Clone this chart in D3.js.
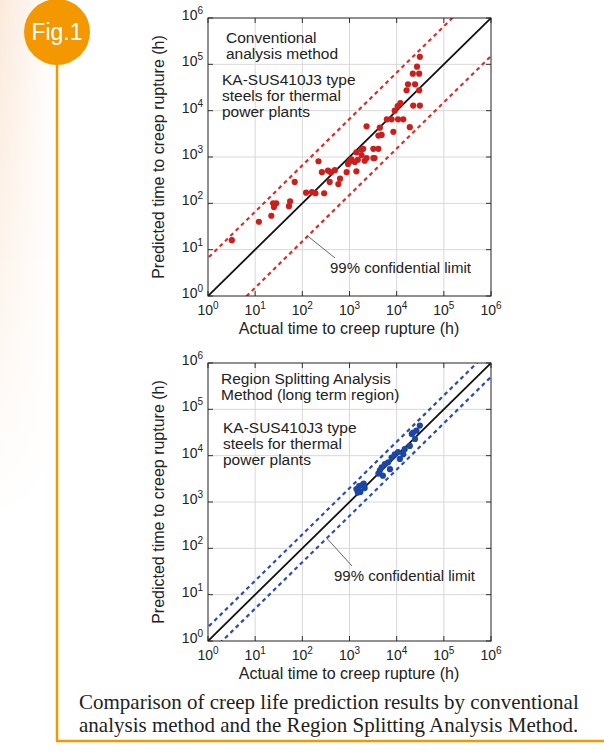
<!DOCTYPE html>
<html>
<head>
<meta charset="utf-8">
<script src="https://cdn.jsdelivr.net/npm/d3@7"></script>
<style>
  body { margin: 0; background: #fff; }
  svg { display: block; }
</style>
</head>
<body>
<div id="fig"></div>
<script>
// values (hours)
const decades = [1, 10, 100, 1e3, 1e4, 1e5, 1e6];
const tickExponents = ["0", "1", "2", "3", "4", "5", "6"];

// conventional method: [actual, predicted]
const conventionalActual = [3.2, 12, 22, 25, 28, 52, 55, 69, 120, 160, 190, 290, 220, 260, 350, 490, 380, 630, 580, 870,
  1400, 930, 1300, 2100, 1100, 1400, 1800, 1950, 2300, 3200, 3400, 3200, 4100, 2300, 4400, 4100, 4800, 8500, 6200, 7800,
  10700, 13800, 9100, 12000, 10500, 19000, 22400, 31000, 16200, 30000, 17400, 24500, 22000, 30000, 27000, 31000, 1800,
  1000, 24, 1500, 400];
const conventionalPredicted = [16, 40, 54, 83, 100, 87, 110, 290, 170, 175, 165, 165, 810, 470, 510, 520, 290, 340, 260, 470,
  490, 710, 780, 830, 890, 1260, 1450, 1500, 950, 950, 950, 1500, 1500, 4600, 4300, 2900, 3000, 3500, 6500, 6500,
  6500, 6500, 10000, 14500, 12600, 4400, 12900, 12900, 27500, 27500, 37000, 37000, 63000, 63000, 89000, 145000, 1100,
  800, 100, 870, 470];

// region splitting method: [actual, predicted]
const splittingActual = [1400, 1600, 1800, 2100, 1700, 1500, 4400, 4800, 5600, 6600, 7800, 9100, 10700, 11700, 7200,
  13800, 14800, 19000, 20900, 22400, 26300, 31000, 24500, 4100, 5100, 2000];
const splittingPredicted = [1900, 2200, 2300, 2000, 1650, 1600, 4800, 5600, 6600, 7200, 9100, 10700, 12000, 8500, 5100,
  10700, 13800, 16200, 29500, 31600, 34700, 44700, 22900, 4100, 3700, 2500];

const confConventional = 0.82;  // decades
const confSplitting = 0.30;

const W = 604, H = 753;
const orange = "#f39800";

const svg = d3.select("#fig").append("svg")
  .attr("width", W).attr("height", H)
  .style("font-family", "'Liberation Sans', Arial, sans-serif");

// faint peach wash on the left edge
const defs = svg.append("defs");
const grad = defs.append("linearGradient").attr("id", "wash").attr("x1", 0).attr("x2", 1);
grad.append("stop").attr("offset", 0).attr("stop-color", "#fbeadb");
grad.append("stop").attr("offset", 1).attr("stop-color", "#ffffff");
const fade = defs.append("linearGradient").attr("id", "fade").attr("x1", 0).attr("x2", 0).attr("y1", 0).attr("y2", 1);
fade.append("stop").attr("offset", 0).attr("stop-color", "#fff").attr("stop-opacity", 1);
fade.append("stop").attr("offset", 1).attr("stop-color", "#fff").attr("stop-opacity", 0);
defs.append("mask").attr("id", "washMask").append("rect")
  .attr("x", 0).attr("y", 0).attr("width", 56).attr("height", 520).attr("fill", "url(#fade)");
svg.append("rect").attr("x", 0).attr("y", 0).attr("width", 56).attr("height", 520)
  .attr("fill", "url(#wash)").attr("mask", "url(#washMask)");

// frame
svg.append("line").attr("x1", 57).attr("x2", 57).attr("y1", 40).attr("y2", 741)
  .attr("stroke", orange).attr("stroke-width", 2.5);
svg.append("line").attr("x1", 56).attr("x2", W).attr("y1", 741).attr("y2", 741)
  .attr("stroke", orange).attr("stroke-width", 2.5);
svg.append("circle").attr("cx", 57).attr("cy", 32).attr("r", 33).attr("fill", orange);
svg.append("text").attr("x", 57).attr("y", 40).attr("text-anchor", "middle")
  .attr("fill", "#fff").style("font-size", "23px").text("Fig.1");

function drawPanel(opt) {
  const x = d3.scaleLog().domain([1, 1e6]).range([208, 491]);
  const y = d3.scaleLog().domain([1, 1e6]).range([opt.top + 278, opt.top]);
  const g = svg.append("g");
  const clipId = "clip" + opt.top;
  defs.append("clipPath").attr("id", clipId).append("rect")
    .attr("x", 208).attr("y", opt.top).attr("width", 283).attr("height", 278);

  // grid
  g.selectAll(".gx").data(decades.slice(1, -1)).enter().append("line")
    .attr("x1", d => x(d)).attr("x2", d => x(d)).attr("y1", opt.top).attr("y2", opt.top + 278)
    .attr("stroke", "#d8d8d8");
  g.selectAll(".gy").data(decades.slice(1, -1)).enter().append("line")
    .attr("y1", d => y(d)).attr("y2", d => y(d)).attr("x1", 208).attr("x2", 491)
    .attr("stroke", "#d8d8d8");

  // inward ticks on all four sides
  const tk = 5;
  decades.forEach(d => {
    g.append("line").attr("x1", x(d)).attr("x2", x(d)).attr("y1", opt.top + 278).attr("y2", opt.top + 278 - tk).attr("stroke", "#333");
    g.append("line").attr("x1", x(d)).attr("x2", x(d)).attr("y1", opt.top).attr("y2", opt.top + tk).attr("stroke", "#333");
    g.append("line").attr("y1", y(d)).attr("y2", y(d)).attr("x1", 208).attr("x2", 208 + tk).attr("stroke", "#333");
    g.append("line").attr("y1", y(d)).attr("y2", y(d)).attr("x1", 491).attr("x2", 491 - tk).attr("stroke", "#333");
  });

  // tick labels 10^n
  const xl = g.selectAll(".xl").data(decades).enter().append("text")
    .attr("x", d => x(d)).attr("y", opt.top + 297).attr("text-anchor", "middle")
    .style("font-size", "14px").attr("fill", "#222");
  xl.append("tspan").text("10");
  xl.append("tspan").attr("dy", -6).style("font-size", "10px").text((d, i) => tickExponents[i]);

  const yl = g.selectAll(".yl").data(decades).enter().append("text")
    .attr("x", 203).attr("y", d => y(d) + 2).attr("text-anchor", "end")
    .style("font-size", "14px").attr("fill", "#222");
  yl.append("tspan").text("10");
  yl.append("tspan").attr("dy", -6).style("font-size", "10px").text((d, i) => tickExponents[i]);

  // axis titles
  svg.append("text").attr("x", 349).attr("y", opt.top + 316).attr("text-anchor", "middle")
    .style("font-size", "16px").attr("fill", "#222").text("Actual time to creep rupture (h)");
  svg.append("text").attr("transform", `translate(164,${opt.top + 139}) rotate(-90)`)
    .attr("text-anchor", "middle").style("font-size", "16px").attr("fill", "#222")
    .text("Predicted time to creep rupture (h)");

  // lines
  const lines = g.append("g").attr("clip-path", `url(#${clipId})`);
  const span = [0.1, 1e7];
  const band = k => d3.line().x(d => x(d)).y(d => y(d * Math.pow(10, k)));
  lines.append("path").datum(span).attr("d", band(0)).attr("stroke", "#111").attr("stroke-width", 1.8).attr("fill", "none");
  [opt.conf, -opt.conf].forEach(k => {
    lines.append("path").datum(span).attr("d", band(k)).attr("stroke", opt.dash)
      .attr("stroke-width", 2.2).attr("stroke-dasharray", "4,3.5").attr("fill", "none");
  });

  // data points
  lines.selectAll("circle").data(opt.actual).enter().append("circle")
    .attr("cx", d => x(d)).attr("cy", (d, i) => y(opt.predicted[i])).attr("r", 3.1)
    .attr("fill", opt.dot);

  // frame
  g.append("rect").attr("x", 208).attr("y", opt.top).attr("width", 283).attr("height", 278)
    .attr("fill", "none").attr("stroke", "#222").attr("stroke-width", 1);

  // annotation text
  opt.notes.forEach(n => {
    svg.append("text").attr("x", n[0]).attr("y", n[1]).style("font-size", "15.5px").attr("fill", "#222").text(n[2]);
  });

  // leader to the lower confidence line
  const lx = opt.leaderAt;
  svg.append("line").attr("x1", x(lx)).attr("y1", y(lx / Math.pow(10, opt.conf)))
    .attr("x2", opt.leaderEnd[0]).attr("y2", opt.leaderEnd[1]).attr("stroke", "#666").attr("stroke-width", 1);
  svg.append("text").attr("x", opt.limitPos[0]).attr("y", opt.limitPos[1]).style("font-size", "15px")
    .attr("fill", "#222").text("99% confidential limit");
}

drawPanel({
  top: 18, conf: confConventional, dash: "#d2322d", dot: "#cc1f1c",
  actual: conventionalActual, predicted: conventionalPredicted,
  notes: [[226, 43, "Conventional"], [226, 59, "analysis method"],
          [222, 85, "KA-SUS410J3 type"], [222, 101, "steels for thermal"], [222, 117, "power plants"]],
  leaderAt: 130, leaderEnd: [335, 258], limitPos: [330, 273]
});

drawPanel({
  top: 363, conf: confSplitting, dash: "#2d4ea6", dot: "#1c46a3",
  actual: splittingActual, predicted: splittingPredicted,
  notes: [[221, 384, "Region Splitting Analysis"], [221, 400, "Method (long term region)"],
          [223, 433, "KA-SUS410J3 type"], [223, 449, "steels for thermal"], [223, 465, "power plants"]],
  leaderAt: 330, leaderEnd: [352, 566], limitPos: [334, 581]
});

// caption
const cap = ["Comparison of creep life prediction results by conventional",
             "analysis method and the Region Splitting Analysis Method."];
svg.selectAll(".cap").data(cap).enter().append("text")
  .attr("x", 79).attr("y", (d, i) => 709 + i * 23)
  .style("font-family", "'Liberation Serif', 'Times New Roman', serif")
  .style("font-size", "21px").attr("fill", "#231f1c").text(d => d);
</script>
</body>
</html>
